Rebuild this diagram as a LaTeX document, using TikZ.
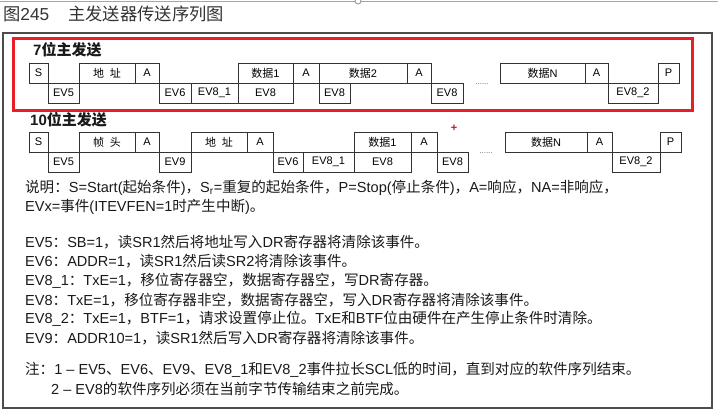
\documentclass[tikz,border=0pt]{standalone}
\usepackage{fontspec}
\setmainfont{Liberation Sans}
\newfontfamily\cjk{Noto Sans CJK SC}
\newcommand\latinfam{\rmfamily}
\XeTeXinterchartokenstate=1
\count255="4E00
\loop\XeTeXcharclass\count255=5 \ifnum\count255<"9FFF \advance\count255 by 1 \repeat
\XeTeXcharclass"3001=5
\XeTeXcharclass"3002=5
\XeTeXcharclass"FF0C=5
\XeTeXcharclass"FF1A=5
\XeTeXcharclass"FF08=5
\XeTeXcharclass"FF09=5
\XeTeXinterchartoks 0 5 = {\cjk}
\XeTeXinterchartoks 4095 5 = {\cjk}
\XeTeXinterchartoks 5 0 = {\latinfam}
\XeTeXinterchartoks 5 4095 = {\latinfam}
\definecolor{redframe}{RGB}{232,30,38}
\definecolor{boxline}{RGB}{50,50,50}
\definecolor{textc}{RGB}{25,25,25}
\tikzset{
  cell/.style={draw=boxline, line width=0.8pt, minimum height=20pt, inner sep=0pt, outer sep=0pt,
    anchor=north west, font=\fontsize{11}{12}\selectfont, text=black},
  bodytext/.style={anchor=west, inner sep=0pt, font=\fontsize{14.55}{16}\selectfont, text=textc},
  headtext/.style={anchor=west, inner sep=0pt, font=\fontsize{15}{16}\selectfont\bfseries, text=textc},
  dotstext/.style={inner sep=0pt, font=\fontsize{8}{8}\selectfont, text=black!60},
}
\newcommand\cellat[5]{\node[cell, minimum width={(#3-#2)*1pt}] (#1) at (#2,#4) {#5};}
\begin{document}
\begin{tikzpicture}[x=1pt,y=-1pt]
\useasboundingbox (0,0) rectangle (718,413);
% screenshot top line
\draw[black!35, line width=0.8pt] (0,1) -- (718,1);
\draw[black!45, line width=0.8pt, fill=white] (358,1) circle (3);
% title
\node[anchor=west, inner sep=0pt, font=\fontsize{17.3}{18}\selectfont, text=black!80] (title) at (3,14) {图245\hspace{19pt}主发送器传送序列图};
% outer frame
\draw[black!70, line width=1.2pt] (3,33) rectangle (712,408);
% red frame
\draw[redframe, line width=3pt] (13,38) rectangle (692,110);
% ---------- 7-bit ----------
\node[headtext] (h7) at (33,50) {7位主发送};
\cellat{aS}{29}{48}{63}{S}
\cellat{aEVfive}{48}{79}{83}{EV5}
\cellat{aAddr}{79}{135}{63}{地\hspace{6pt}址}
\cellat{aAone}{135}{159}{63}{A}
\cellat{aEVsix}{159}{191}{83}{EV6}
\cellat{aEVeightone}{191}{238}{83}{EV8\_1}
\cellat{aDataone}{238}{293}{63}{数据1}
\cellat{aEVeighta}{238}{293}{83}{EV8}
\cellat{aAtwo}{293}{319}{63}{A}
\cellat{aDatatwo}{319}{407}{63}{数据2}
\cellat{aEVeightb}{319}{350}{83}{EV8}
\cellat{aAthree}{407}{431}{63}{A}
\cellat{aEVeightc}{431}{463}{83}{EV8}
\node[dotstext] (adots) at (482,84) {......};
\cellat{aDataN}{500}{585}{63}{数据N}
\cellat{aAfour}{585}{608}{63}{A}
\cellat{aEVeighttwo}{608}{658}{83}{EV8\_2}
\cellat{aP}{658}{679}{63}{P}
% ---------- 10-bit ----------
\node[headtext] (h10) at (30,120) {10位主发送};
\cellat{bS}{29}{48}{132}{S}
\cellat{bEVfive}{48}{79}{152}{EV5}
\cellat{bHead}{79}{135}{132}{帧\hspace{6pt}头}
\cellat{bAone}{135}{159}{132}{A}
\cellat{bEVnine}{159}{191}{152}{EV9}
\cellat{bAddr}{191}{247}{132}{地\hspace{6pt}址}
\cellat{bAtwo}{247}{273}{132}{A}
\cellat{bEVsix}{273}{303}{152}{EV6}
\cellat{bEVeightone}{303}{354}{152}{EV8\_1}
\cellat{bDataone}{354}{411}{132}{数据1}
\cellat{bEVeighta}{354}{411}{152}{EV8}
\cellat{bAthree}{411}{437}{132}{A}
\cellat{bEVeightb}{437}{468}{152}{EV8}
\node[inner sep=0pt, font=\fontsize{11}{11}\selectfont\bfseries, text=redframe!85!black] (plus) at (454,128) {+};
\node[dotstext] (bdots) at (486,153) {......};
\cellat{bDataN}{505}{587}{132}{数据N}
\cellat{bAfour}{587}{612}{132}{A}
\cellat{bEVeighttwo}{612}{660}{152}{EV8\_2}
\cellat{bP}{660}{681}{132}{P}
% ---------- notes ----------
\node[bodytext] (l1) at (25,188) {说明：S=Start(起始条件)，S\textsubscript{r}=重复的起始条件，P=Stop(停止条件)，A=响应，NA=非响应，};
\node[bodytext] (l2) at (25,207) {EVx=事件(ITEVFEN=1时产生中断)。};
\node[bodytext] (l3) at (25,242) {EV5：SB=1，读SR1然后将地址写入DR寄存器将清除该事件。};
\node[bodytext] (l4) at (25,261) {EV6：ADDR=1，读SR1然后读SR2将清除该事件。};
\node[bodytext] (l5) at (25,281) {EV8\_1：TxE=1，移位寄存器空，数据寄存器空，写DR寄存器。};
\node[bodytext] (l6) at (25,300) {EV8：TxE=1，移位寄存器非空，数据寄存器空，写入DR寄存器将清除该事件。};
\node[bodytext] (l7) at (25,319) {EV8\_2：TxE=1，BTF=1，请求设置停止位。TxE和BTF位由硬件在产生停止条件时清除。};
\node[bodytext] (l8) at (25,338) {EV9：ADDR10=1，读SR1然后写入DR寄存器将清除该事件。};
\node[bodytext] (l9) at (25,370) {注：1 – EV5、EV6、EV9、EV8\_1和EV8\_2事件拉长SCL低的时间，直到对应的软件序列结束。};
\node[bodytext] (l10) at (51,389) {2 – EV8的软件序列必须在当前字节传输结束之前完成。};
\end{tikzpicture}
\end{document}
